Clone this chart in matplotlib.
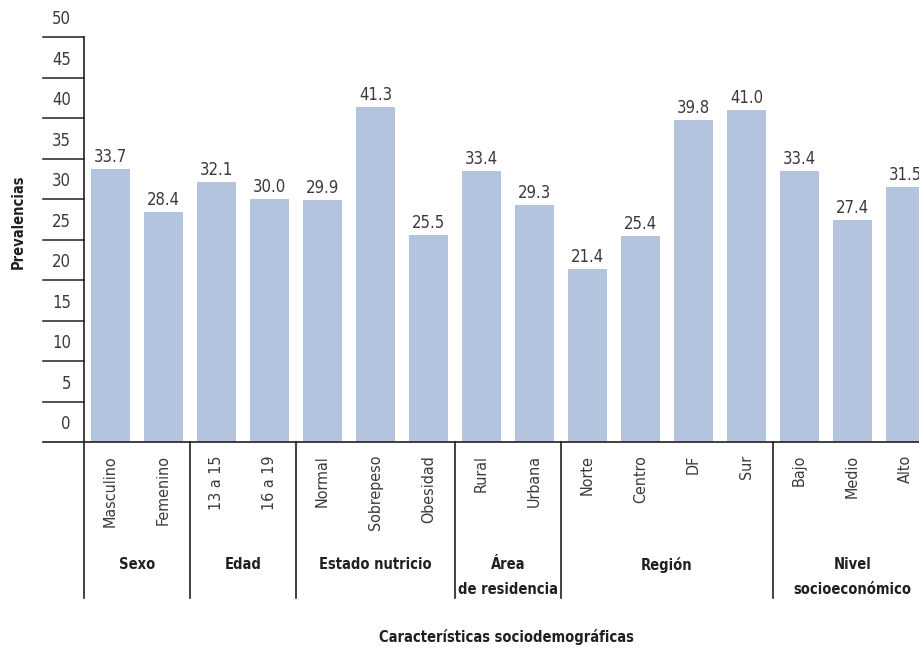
import numpy as np
import matplotlib
matplotlib.use("Agg")
import matplotlib.pyplot as plt

plt.rcParams['font.family'] = ['DejaVu Sans']
plt.rcParams['font.stretch'] = 'condensed'

groups = ["Sexo", "Edad", "Estado nutricio", "Área\nde residencia", "Región",
          "Nivel\nsocioeconómico"]
group_sizes = [2, 2, 3, 2, 4, 3]
categories = ["Masculino", "Femenino", "13 a 15", "16 a 19", "Normal", "Sobrepeso",
              "Obesidad", "Rural", "Urbana", "Norte", "Centro", "DF", "Sur",
              "Bajo", "Medio", "Alto"]
values = [33.7, 28.4, 32.1, 30.0, 29.9, 41.3, 25.5, 33.4, 29.3, 21.4, 25.4,
          39.8, 41.0, 33.4, 27.4, 31.5]
yticks = [0, 5, 10, 15, 20, 25, 30, 35, 40, 45, 50]

bar_color = "#b4c3de"
ink = "#231f20"

W, H = 920, 650
fig = plt.figure(figsize=(W / 100, H / 100), dpi=100)
# axes: x from 84px to figure edge, y: 0 at 442px, 50 at 37px
x0, y0, ytop = 84, 442, 37
slot = 53.0
ax = fig.add_axes([x0 / W, (H - y0) / H, (W - x0) / W, (y0 - ytop) / H])
ax.set_xlim(0, (W - x0) / slot)
ax.set_ylim(0, 50)
ax.axis("off")

upx = 50 / (y0 - ytop)  # data units per pixel (y)
xpx = 1 / slot          # data units per pixel (x)
bottom = -(598 - y0) * upx
left = -(84 - 43) * xpx

x = np.arange(len(values)) + 0.5
ax.bar(x, values, width=39 / slot, color=bar_color, zorder=2)

for xi, v in zip(x, values):
    ax.text(xi, v + 3 * upx, f"{v:.1f}", ha="center", va="bottom",
            fontsize=12, color="#3a3a3a", clip_on=False)

# y-axis grid stubs and labels (labels sit between the stubs)
for t in yticks[1:]:
    ax.plot([left, 0], [t, t], color=ink, lw=1.1, clip_on=False)
for t in yticks:
    ax.text(-13 * xpx, t + 2.2, str(t), ha="right", va="center",
            fontsize=12, color="#3a3a3a", clip_on=False)

# axis lines
ax.plot([0, 0], [bottom, 50], color=ink, lw=1.2, clip_on=False)
ax.plot([left, (W - x0) / slot], [0, 0], color=ink, lw=1.2, clip_on=False)

# category labels
for xi, c in zip(x, categories):
    ax.text(xi, -13 * upx, c, rotation=90, ha="center", va="top",
            fontsize=11.5, color="#3a3a3a", clip_on=False)

# group separators and labels
edges = np.cumsum([0] + group_sizes)
for e in edges[1:-1]:
    ax.plot([e, e], [0, bottom], color=ink, lw=1.2, clip_on=False)
for g, a, b in zip(groups, edges[:-1], edges[1:]):
    ax.text((a + b) / 2, -(557 - y0) * upx, g, ha="center", va="top",
            fontsize=10.5, fontweight="bold", color=ink, linespacing=1.85,
            clip_on=False)

fig.text(18 / W, 1 - 222 / H, "Prevalencias", rotation=90, ha="center",
         va="center", fontsize=10.5, fontweight="bold", color=ink)
fig.text(506 / W, 1 - 637 / H, "Características sociodemográficas",
         ha="center", va="center", fontsize=10.5, fontweight="bold", color=ink)

fig.savefig("out.png", dpi=100)
